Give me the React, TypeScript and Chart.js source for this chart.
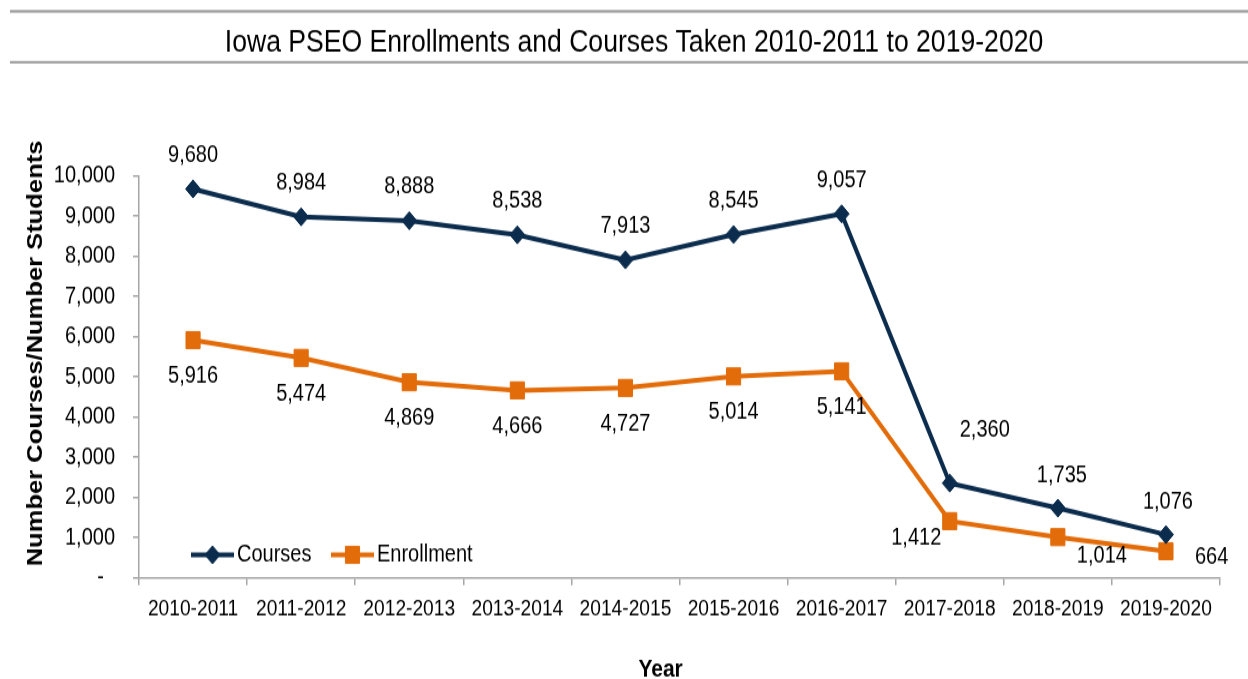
import React, { useEffect, useRef } from 'react';
import { Chart, registerables } from 'chart.js';

Chart.register(...registerables);

// ---------- data ----------
const chartTitle = 'Iowa PSEO Enrollments and Courses Taken 2010-2011 to 2019-2020';
const yAxisTitle = 'Number Courses/Number Students';
const xAxisTitle = 'Year';
const years = [
  '2010-2011', '2011-2012', '2012-2013', '2013-2014', '2014-2015',
  '2015-2016', '2016-2017', '2017-2018', '2018-2019', '2019-2020',
];
const courses = [9680, 8984, 8888, 8538, 7913, 8545, 9057, 2360, 1735, 1076];
const enrollment = [5916, 5474, 4869, 4666, 4727, 5014, 5141, 1412, 1014, 664];
const seriesNames = ['Courses', 'Enrollment'];
const yMin = 0;
const yMax = 10000;
const yStep = 1000;

// ---------- style ----------
const W = 1248;
const H = 566; // internal canvas height, stretched to 679 on screen
const STRETCH = 679 / H;
const NAVY = '#0b2c4d';
const ORANGE = '#e36c0a';
const GRAY = '#a6a6a6';
const FONT = "'Liberation Sans', Arial, Helvetica, sans-serif";

// label offsets (dx, dy) relative to each point, per dataset
const labelOffsets: number[][][] = [
  [[0, -28], [0, -28], [0, -28], [0, -28], [0, -28], [0, -28], [0, -28], [35, -43.7], [4, -27.3], [2, -27.2]],
  [[0, 30], [0, 30], [0, 30], [0, 30], [0, 30], [0, 30], [0, 30.5], [-33.5, 14.2], [44, 15.8], [45.7, 4.7]],
];

const fmt = (v: number) => v.toLocaleString('en-US');

function diamond(ctx: CanvasRenderingContext2D, x: number, y: number, r: number, color: string) {
  ctx.beginPath();
  ctx.moveTo(x - r, y);
  ctx.lineTo(x, y - r);
  ctx.lineTo(x + r, y);
  ctx.lineTo(x, y + r);
  ctx.closePath();
  ctx.fillStyle = color;
  ctx.strokeStyle = color;
  ctx.lineWidth = 1;
  ctx.fill();
  ctx.stroke();
}

function square(ctx: CanvasRenderingContext2D, x: number, y: number, r: number, color: string) {
  const s = Math.SQRT1_2 * r;
  ctx.beginPath();
  ctx.rect(x - s, y - s, 2 * s, 2 * s);
  ctx.fillStyle = color;
  ctx.strokeStyle = color;
  ctx.lineWidth = 1;
  ctx.fill();
  ctx.stroke();
}

const decorPlugin = {
  id: 'decor',
  afterDatasetsDraw(chart: any) {
    const ctx: CanvasRenderingContext2D = chart.ctx;
    ctx.save();
    ctx.font = `20px ${FONT}`;
    ctx.fillStyle = '#000';
    ctx.textAlign = 'center';
    ctx.textBaseline = 'middle';
    chart.data.datasets.forEach((ds: any, di: number) => {
      const meta = chart.getDatasetMeta(di);
      meta.data.forEach((pt: any, i: number) => {
        const [dx, dy] = labelOffsets[di][i];
        ctx.fillText(fmt(ds.data[i]), pt.x + dx, pt.y + dy);
      });
    });
    ctx.restore();
  },
  afterDraw(chart: any) {
    const ctx: CanvasRenderingContext2D = chart.ctx;
    ctx.save();
    // header rules
    ctx.fillStyle = '#9f9f9f';
    ctx.fillRect(10, 8.3, W - 10, 2.3);
    ctx.fillRect(10, 50.8, W - 10, 2.1);
    // title
    ctx.fillStyle = '#000';
    ctx.font = `26.6px ${FONT}`;
    ctx.textAlign = 'center';
    ctx.textBaseline = 'alphabetic';
    ctx.fillText(chartTitle, 634, 43.1);
    // x axis title
    ctx.font = `bold 21px ${FONT}`;
    ctx.fillText(xAxisTitle, 660.6, 564);
    // y axis title
    ctx.save();
    ctx.font = `bold 21.3px ${FONT}`;
    ctx.translate(41.7, 294.6);
    ctx.rotate(-Math.PI / 2);
    ctx.fillText(yAxisTitle, 0, 0);
    ctx.restore();
    // legend
    const ly = 462.5;
    ctx.lineWidth = 4;
    ctx.strokeStyle = NAVY;
    ctx.beginPath();
    ctx.moveTo(191, ly);
    ctx.lineTo(234, ly);
    ctx.stroke();
    diamond(ctx, 212.5, ly, 7.5, NAVY);
    ctx.lineWidth = 4;
    ctx.strokeStyle = ORANGE;
    ctx.beginPath();
    ctx.moveTo(331, ly);
    ctx.lineTo(374, ly);
    ctx.stroke();
    square(ctx, 352.5, ly, 10, ORANGE);
    ctx.fillStyle = '#000';
    ctx.font = `20px ${FONT}`;
    ctx.textAlign = 'left';
    ctx.textBaseline = 'middle';
    ctx.fillText(seriesNames[0], 237, ly);
    ctx.fillText(seriesNames[1], 377, ly);
    ctx.restore();
  },
};

export default function App() {
  const ref = useRef<HTMLCanvasElement>(null);

  useEffect(() => {
    if (!ref.current) return;
    const chart = new Chart(ref.current, {
      type: 'line',
      data: {
        labels: years,
        datasets: [
          {
            label: seriesNames[0],
            data: courses,
            borderColor: NAVY,
            backgroundColor: NAVY,
            borderWidth: 4,
            tension: 0,
            pointStyle: 'rectRot',
            pointRadius: 7.5,
            pointBorderWidth: 1,
            pointBackgroundColor: NAVY,
            pointBorderColor: NAVY,
            fill: false,
            clip: false,
          },
          {
            label: seriesNames[1],
            data: enrollment,
            borderColor: ORANGE,
            backgroundColor: ORANGE,
            borderWidth: 4,
            tension: 0,
            pointStyle: 'rect',
            pointRadius: 10,
            pointBorderWidth: 1,
            pointBackgroundColor: ORANGE,
            pointBorderColor: ORANGE,
            fill: false,
            clip: false,
          },
        ],
      },
      options: {
        responsive: false,
        animation: false,
        devicePixelRatio: 1,
        layout: { padding: { top: 146.7, right: 28, left: 0, bottom: 0 } },
        plugins: {
          legend: { display: false },
          title: { display: false },
          tooltip: { enabled: false },
        },
        scales: {
          x: {
            type: 'category',
            offset: true,
            grid: {
              display: true,
              offset: true,
              drawOnChartArea: false,
              drawTicks: true,
              tickLength: 6,
              color: GRAY,
              lineWidth: 1.5,
            },
            border: { display: true, color: GRAY, width: 1.5 },
            ticks: {
              color: '#000',
              font: { family: FONT, size: 19.2 },
              padding: 8,
              maxRotation: 0,
              autoSkip: false,
            },
            afterFit: (scale: any) => {
              scale.height = H - 481.7;
            },
          },
          y: {
            min: yMin,
            max: yMax,
            grid: {
              display: true,
              drawOnChartArea: false,
              drawTicks: true,
              tickLength: 6,
              color: GRAY,
              lineWidth: 1.5,
            },
            border: { display: true, color: GRAY, width: 1.5 },
            ticks: {
              stepSize: yStep,
              color: '#000',
              font: { family: FONT, size: 20 },
              padding: 18,
              callback: (v: any) => (Number(v) === 0 ? '-  ' : fmt(Number(v))),
            },
            afterFit: (scale: any) => {
              scale.width = 139;
            },
          },
        },
      },
      plugins: [decorPlugin],
    } as any);
    return () => chart.destroy();
  }, []);

  return (
    <div style={{ position: 'fixed', left: 0, top: 0, width: W, height: 679, overflow: 'hidden', background: '#fff' }}>
      <div style={{ width: W, height: H, transform: `scaleY(${STRETCH})`, transformOrigin: '0 0' }}>
        <canvas ref={ref} width={W} height={H} style={{ display: 'block', width: W, height: H }} />
      </div>
    </div>
  );
}
